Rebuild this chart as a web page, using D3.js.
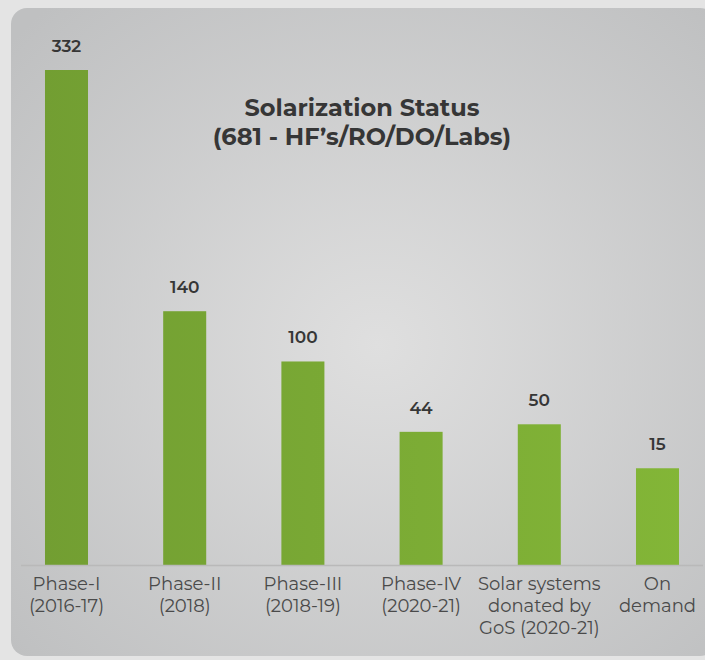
<!DOCTYPE html>
<html>
<head>
<meta charset="utf-8">
<script src="https://cdn.jsdelivr.net/npm/d3@7"></script>
<style>
  body { margin: 0; background: #e4e4e4; }
  svg { display: block; }
</style>
</head>
<body>
<svg id="chart" width="705" height="660"></svg>
<script>
// data
var categories = [
  ["Phase-I", "(2016-17)"],
  ["Phase-II", "(2018)"],
  ["Phase-III", "(2018-19)"],
  ["Phase-IV", "(2020-21)"],
  ["Solar systems", "donated by", "GoS (2020-21)"],
  ["On", "demand"]
];
var values = [332, 140, 100, 44, 50, 15];
var titleLines = ["Solarization Status", "(681 - HF\u2019s/RO/DO/Labs)"];

var svg = d3.select("#chart"),
    fontFam = "Montserrat, 'Open Sans', 'Noto Sans', sans-serif";

var defs = svg.append("defs");

// panel background, lighter in the middle
var bg = defs.append("radialGradient").attr("id", "bgGrad")
    .attr("cx", "0.52").attr("cy", "0.52").attr("r", "0.7");
bg.append("stop").attr("offset", "0%").attr("stop-color", "#dfdfdf");
bg.append("stop").attr("offset", "100%").attr("stop-color", "#bfc0c1");

// bar colour goes from darker on the left to lighter on the right
var barGrad = defs.append("linearGradient").attr("id", "barGrad")
    .attr("gradientUnits", "userSpaceOnUse")
    .attr("x1", 40).attr("x2", 690).attr("y1", 0).attr("y2", 0);
barGrad.append("stop").attr("offset", "0%").attr("stop-color", "#729e32");
barGrad.append("stop").attr("offset", "100%").attr("stop-color", "#83b637");

svg.append("rect")
    .attr("x", 11).attr("y", 8)
    .attr("width", 705).attr("height", 648)
    .attr("rx", 16)
    .attr("fill", "url(#bgGrad)");

var baseY = 565;

var x = d3.scaleBand()
    .domain(d3.range(values.length))
    .range([7.4, 7.4 + 118.2 * 6])
    .paddingInner(0.636)
    .paddingOuter(0.318);

var y = d3.scaleLinear()
    .domain([-62, 332])
    .range([baseY, 70]);

var g = svg.append("g");

// bars
g.selectAll("rect.bar")
  .data(values)
  .enter().append("rect")
    .attr("class", "bar")
    .attr("x", function(d, i) { return x(i); })
    .attr("y", function(d) { return y(d); })
    .attr("width", x.bandwidth())
    .attr("height", function(d) { return baseY - y(d); })
    .attr("fill", "url(#barGrad)");

// baseline
g.append("line")
    .attr("x1", 21).attr("x2", 703)
    .attr("y1", baseY + 0.5).attr("y2", baseY + 0.5)
    .attr("stroke", "#b9b9b9").attr("stroke-width", 1.5);

// values on top
g.selectAll("text.val")
  .data(values)
  .enter().append("text")
    .attr("class", "val")
    .attr("x", function(d, i) { return x(i) + x.bandwidth() / 2; })
    .attr("y", function(d) { return y(d) - 18; })
    .attr("text-anchor", "middle")
    .attr("font-family", fontFam)
    .attr("font-weight", 600)
    .attr("font-size", 17)
    .attr("fill", "#363636")
    .text(function(d) { return d; });

// category labels, one line per tspan
var labels = g.selectAll("text.cat")
  .data(categories)
  .enter().append("text")
    .attr("class", "cat")
    .attr("text-anchor", "middle")
    .attr("font-family", fontFam)
    .attr("font-size", 18)
    .attr("fill", "#4a4a4a");

labels.selectAll("tspan")
  .data(function(d, i) { return d.map(function(s) { return {s: s, i: i}; }); })
  .enter().append("tspan")
    .attr("x", function(d) { return x(d.i) + x.bandwidth() / 2; })
    .attr("y", function(d, j) { return 590 + j * 22; })
    .text(function(d) { return d.s; });

// title
svg.append("text")
    .attr("text-anchor", "middle")
    .attr("font-family", fontFam)
    .attr("font-weight", "bold")
    .attr("font-size", 24)
    .attr("fill", "#363636")
  .selectAll("tspan")
  .data(titleLines)
  .enter().append("tspan")
    .attr("x", 362)
    .attr("y", function(d, i) { return 116 + i * 29; })
    .text(function(d) { return d; });
</script>
</body>
</html>
